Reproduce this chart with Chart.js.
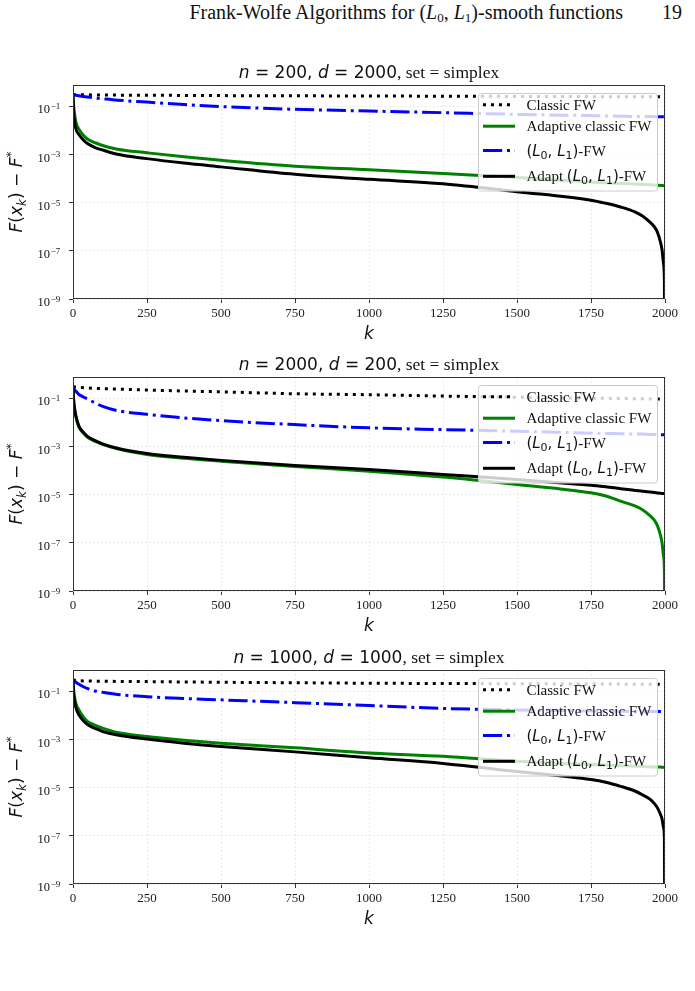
<!DOCTYPE html>
<html><head><meta charset="utf-8">
<script src="https://cdn.jsdelivr.net/npm/chart.js@4.4.1/dist/chart.umd.min.js"></script>
<style>
html,body{margin:0;padding:0;background:#fff;}
body{width:695px;height:991px;position:relative;overflow:hidden;font-family:"Liberation Serif",serif;color:#111;}
#hdr{position:absolute;top:1px;left:0;width:623px;text-align:right;font-size:20px;line-height:22px;white-space:nowrap;}
#pg{position:absolute;top:1px;left:662px;font-size:20px;line-height:22px;}
#hdr i{font-style:italic;}
#hdr sub{font-size:13px;vertical-align:-3px;line-height:0;}
canvas{position:absolute;left:0;}
</style></head>
<body>
<div id="hdr">Frank-Wolfe Algorithms for (<i>L</i><sub>0</sub>, <i>L</i><sub>1</sub>)-smooth functions</div>
<div id="pg">19</div>
<canvas id="c0" width="695" height="300" style="top:45px"></canvas>
<canvas id="c1" width="695" height="300" style="top:337px"></canvas>
<canvas id="c2" width="695" height="300" style="top:630px"></canvas>
<script>
// ---------- data ----------
const kSteps = [0, 2, 5, 10, 20, 35, 50, 75, 100, 150, 250, 375, 500, 750, 1000, 1250, 1500, 1750, 1800, 1850, 1900, 1925, 1950, 1965, 1975, 1985, 1990, 1995, 1998, 2000];
const seriesNames = ['Classic FW', 'Adaptive classic FW', '(L0, L1)-FW', 'Adapt (L0, L1)-FW'];
const panelN = [200, 2000, 1000];
const panelD = [2000, 200, 1000];
const xTickValues = [0, 250, 500, 750, 1000, 1250, 1500, 1750, 2000];
const xTickLabels = ['0', '250', '500', '750', '1000', '1250', '1500', '1750', '2000'];
const yTickExponents = [-9, -7, -5, -3, -1];

// panel 1: n=200, d=2000
const classic1 = [0.3, 0.3, 0.3, 0.29, 0.29, 0.29, 0.29, 0.288, 0.285, 0.283, 0.28, 0.275, 0.27, 0.265, 0.26, 0.255, 0.25, 0.245, 0.244, 0.243, 0.242, 0.242, 0.241, 0.241, 0.24, 0.24, 0.24, 0.24, 0.24, 0.24];
const adaptive1 = [0.3, 0.12, 0.05, 0.021, 0.011, 0.0062, 0.0042, 0.003, 0.0023, 0.0016, 0.00115, 0.00078, 0.00056, 0.00032, 0.00023, 0.00016, 0.000108, 0.00007, 0.000066, 0.000062, 0.000058, 0.000056, 0.000054, 0.000053, 0.000052, 0.000051, 0.000051, 0.00005, 0.00005, 0.00005];
const l0l1_1 = [0.3, 0.298, 0.29, 0.28, 0.265, 0.25, 0.235, 0.215, 0.2, 0.175, 0.145, 0.115, 0.095, 0.073, 0.062, 0.053, 0.045, 0.04, 0.039, 0.038, 0.037, 0.037, 0.0365, 0.0363, 0.0362, 0.036, 0.036, 0.036, 0.036, 0.036];
const adaptL0L1_1 = [0.3, 0.06, 0.025, 0.011, 0.0066, 0.0039, 0.0027, 0.0019, 0.0015, 0.001, 0.00066, 0.00043, 0.0003, 0.000148, 0.000091, 0.00006, 0.000028, 0.0000125, 0.0000093, 0.0000065, 0.000004, 0.0000027, 0.0000015, 0.00000095, 0.00000056, 0.00000022, 0.00000011, 0.00000003, 0.000000006, 1e-14];

// panel 2: n=2000, d=200
const classic2 = [0.3, 0.295, 0.29, 0.285, 0.275, 0.268, 0.26, 0.252, 0.245, 0.235, 0.215, 0.195, 0.18, 0.15, 0.137, 0.12, 0.108, 0.098, 0.097, 0.095, 0.094, 0.093, 0.092, 0.092, 0.091, 0.091, 0.091, 0.09, 0.09, 0.09];
const adaptive2 = [0.3, 0.08, 0.035, 0.016, 0.0062, 0.0035, 0.0023, 0.0016, 0.0012, 0.00078, 0.00046, 0.00032, 0.00024, 0.000145, 0.000093, 0.000053, 0.000026, 0.0000118, 0.0000087, 0.0000053, 0.0000033, 0.0000023, 0.0000013, 0.00000083, 0.00000049, 0.0000002, 0.0000001, 0.000000028, 0.000000006, 1e-14];
const l0l1_2 = [0.3, 0.26, 0.22, 0.19, 0.14, 0.11, 0.09, 0.062, 0.045, 0.03, 0.021, 0.015, 0.0115, 0.0079, 0.0058, 0.0049, 0.0042, 0.0035, 0.0034, 0.0033, 0.0032, 0.0032, 0.0031, 0.0031, 0.003, 0.003, 0.003, 0.003, 0.003, 0.003];
const adaptL0L1_2 = [0.3, 0.09, 0.04, 0.018, 0.0068, 0.0038, 0.0025, 0.0017, 0.00126, 0.00083, 0.0005, 0.00035, 0.00026, 0.000159, 0.00011, 0.000068, 0.000042, 0.000024, 0.000021, 0.0000174, 0.0000148, 0.0000137, 0.0000126, 0.000012, 0.0000116, 0.0000112, 0.000011, 0.0000109, 0.0000108, 0.0000107];

// panel 3: n=1000, d=1000
const classic3 = [0.3, 0.29, 0.28, 0.27, 0.265, 0.262, 0.26, 0.257, 0.255, 0.25, 0.245, 0.237, 0.23, 0.22, 0.21, 0.205, 0.2, 0.195, 0.194, 0.193, 0.192, 0.192, 0.191, 0.191, 0.19, 0.19, 0.19, 0.19, 0.19, 0.19];
const adaptive3 = [0.3, 0.12, 0.06, 0.03, 0.0165, 0.0085, 0.0054, 0.0038, 0.0029, 0.0019, 0.0013, 0.00092, 0.00069, 0.00044, 0.00027, 0.000196, 0.000122, 0.000089, 0.000085, 0.00008, 0.000076, 0.000074, 0.000072, 0.000071, 0.00007, 0.00007, 0.000069, 0.000069, 0.000069, 0.000069];
const l0l1_3 = [0.3, 0.28, 0.26, 0.23, 0.19, 0.15, 0.125, 0.1, 0.088, 0.072, 0.058, 0.049, 0.043, 0.033, 0.025, 0.019, 0.0165, 0.015, 0.0148, 0.0145, 0.0143, 0.0143, 0.0142, 0.0141, 0.014, 0.014, 0.014, 0.014, 0.014, 0.014];
const adaptL0L1_3 = [0.3, 0.08, 0.04, 0.02, 0.0103, 0.0058, 0.004, 0.0028, 0.0021, 0.0015, 0.00102, 0.00069, 0.0005, 0.0003, 0.00017, 0.0001, 0.000046, 0.0000213, 0.0000165, 0.0000112, 0.000007, 0.0000049, 0.0000032, 0.0000021, 0.0000014, 0.00000075, 0.0000005, 0.00000022, 0.00000008, 1e-14];

const panels = [
  [classic1, adaptive1, l0l1_1, adaptL0L1_1],
  [classic2, adaptive2, l0l1_2, adaptL0L1_2],
  [classic3, adaptive3, l0l1_3, adaptL0L1_3]
];

// ---------- styles ----------
const lineColors = ['#000000', '#008000', '#0000ff', '#000000'];
const lineDashes = [[3, 5], [], [19.2, 4.8, 3, 4.8], []];
const drawOrder = [4, 3, 2, 1];

function fnt(style, size, family) { return style + ' ' + size + 'px "' + family + '"'; }
const SERIF = 'Liberation Serif', SANS = 'DejaVu Sans';

function drawRich(ctx, segs, x, y, align) {
  let w = 0;
  segs.forEach(s => { ctx.font = s.f; s.w = ctx.measureText(s.t).width; w += s.w; });
  let cx = align === 'center' ? x - w / 2 : (align === 'right' ? x - w : x);
  ctx.textAlign = 'left';
  ctx.textBaseline = 'alphabetic';
  segs.forEach(s => { ctx.font = s.f; ctx.fillText(s.t, cx, y + (s.dy || 0)); cx += s.w; });
  return w;
}

function labelSegs(name, size) {
  const m = name.match(/^(.*)\(L(\d), L(\d)\)(.*)$/);
  if (!m) return [{ t: name, f: fnt('normal', size, SERIF) }];
  const segs = [];
  if (m[1]) segs.push({ t: m[1], f: fnt('normal', size, SERIF) });
  const sub = Math.round(size * 0.7);
  segs.push({ t: '(', f: fnt('normal', size, SANS) });
  segs.push({ t: 'L', f: fnt('italic', size, SANS) });
  segs.push({ t: m[2], f: fnt('normal', sub, SANS), dy: 3 });
  segs.push({ t: ', ', f: fnt('normal', size, SANS) });
  segs.push({ t: 'L', f: fnt('italic', size, SANS) });
  segs.push({ t: m[3], f: fnt('normal', sub, SANS), dy: 3 });
  segs.push({ t: ')', f: fnt('normal', size, SANS) });
  if (m[4]) segs.push({ t: m[4], f: fnt('normal', size, SERIF) });
  return segs;
}

const decorPlugin = {
  id: 'decor',
  afterDatasetsDraw(chart) {
    const { ctx, chartArea: a } = chart;
    ctx.save();
    // frame
    ctx.strokeStyle = '#333';
    ctx.lineWidth = 1;
    ctx.strokeRect(Math.round(a.left) + 0.5, Math.round(a.top) + 0.5, Math.round(a.right - a.left) - 1, Math.round(a.bottom - a.top) - 1);
    // legend
    const bw = 179, bh = 97.5, bx = a.right - 8 - bw, by = a.top + 8;
    ctx.beginPath();
    ctx.roundRect(bx + 0.5, by + 0.5, bw, bh, 3);
    ctx.fillStyle = 'rgba(255,255,255,0.8)';
    ctx.fill();
    ctx.strokeStyle = '#cccccc';
    ctx.lineWidth = 1;
    ctx.stroke();
    const rows = [11.8, 33.2, 57.5, 83.3];
    chart.data.datasets.forEach((ds, i) => {
      const y = by + rows[i];
      ctx.save();
      ctx.strokeStyle = ds.borderColor;
      ctx.lineWidth = 3;
      ctx.lineCap = 'butt';
      ctx.setLineDash(ds.borderDash || []);
      ctx.beginPath();
      ctx.moveTo(bx + 5, y);
      ctx.lineTo(bx + 37, y);
      ctx.stroke();
      ctx.restore();
      ctx.fillStyle = '#111';
      drawRich(ctx, labelSegs(ds.label, 15), bx + 48.4, y + 5, 'left');
    });
    ctx.restore();
  },
  afterDraw(chart) {
    const { ctx, chartArea: a } = chart;
    const p = chart.options.plugins.decor;
    ctx.save();
    ctx.fillStyle = '#111';
    // title
    const cx = (a.left + a.right) / 2;
    drawRich(ctx, [
      { t: 'n', f: fnt('italic', 17, SANS) },
      { t: ' = ' + p.n + ', ', f: fnt('normal', 17, SANS) },
      { t: 'd', f: fnt('italic', 17, SANS) },
      { t: ' = ' + p.d, f: fnt('normal', 17, SANS) },
      { t: ', set = simplex', f: fnt('normal', 17.5, SERIF) }
    ], cx, a.top - 7, 'center');
    // y tick labels (10^e)
    const ys = chart.scales.y;
    yTickExponents.forEach(e => {
      const py = ys.getPixelForValue(Math.pow(10, e));
      ctx.textBaseline = 'alphabetic';
      ctx.font = fnt('normal', 12.5, SERIF);
      ctx.textAlign = 'right';
      ctx.fillText('10', a.left - 23, py + 7.3);
      ctx.font = fnt('normal', 9, SERIF);
      ctx.textAlign = 'left';
      ctx.fillText('\u2212' + Math.abs(e), a.left - 22.3, py + 3);
    });
    // y axis label
    ctx.save();
    ctx.translate(22, (a.top + a.bottom) / 2);
    ctx.rotate(-Math.PI / 2);
    drawRich(ctx, [
      { t: 'F', f: fnt('italic', 17, SANS) },
      { t: '(', f: fnt('normal', 17, SANS) },
      { t: 'x', f: fnt('italic', 17, SANS) },
      { t: 'k', f: fnt('italic', 12, SANS), dy: 3.5 },
      { t: ') \u2212 ', f: fnt('normal', 17, SANS) },
      { t: 'F', f: fnt('italic', 17, SANS) },
      { t: '*', f: fnt('normal', 12, SANS), dy: -7 }
    ], 0, 0, 'center');
    ctx.restore();
    ctx.restore();
  }
};

function makeChart(idx) {
  const series = panels[idx];
  const datasets = series.map((vals, i) => ({
    label: seriesNames[i],
    data: kSteps.map((k, j) => ({ x: k, y: vals[j] })),
    borderColor: lineColors[i],
    backgroundColor: lineColors[i],
    borderWidth: 3,
    borderDash: lineDashes[i],
    borderCapStyle: 'butt',
    pointRadius: 0,
    fill: false,
    cubicInterpolationMode: 'monotone',
    clip: 0,
    order: drawOrder[i]
  }));
  const gridOpts = { color: '#e4e4e4', lineWidth: 0.8, tickLength: 4, tickColor: '#333', tickWidth: 1, tickBorderDash: [] };
  return new Chart(document.getElementById('c' + idx), {
    type: 'line',
    data: { datasets },
    plugins: [decorPlugin],
    options: {
      responsive: false,
      animation: false,
      devicePixelRatio: 1,
      events: [],
      layout: { padding: { left: 0, right: 30, top: 40, bottom: 0 } },
      plugins: {
        legend: { display: false },
        tooltip: { enabled: false },
        title: { display: false },
        decor: { n: panelN[idx], d: panelD[idx] }
      },
      scales: {
        x: {
          type: 'linear', min: 0, max: 2000,
          afterBuildTicks: s => { s.ticks = xTickValues.map(v => ({ value: v })); },
          ticks: { font: { family: SERIF, size: 13 }, color: '#222', padding: 3, maxRotation: 0, autoSkip: false,
                   callback: (v, i) => xTickLabels[i] },
          grid: gridOpts,
          border: { display: false, dash: [2, 2] },
          title: { display: true, text: 'k', color: '#111', font: { family: SANS, style: 'italic', size: 17 }, padding: { top: 0, bottom: 0 } },
          afterFit: s => { s.height = 46; }
        },
        y: {
          type: 'logarithmic', min: 1e-9, max: Math.pow(10, -0.129),
          afterBuildTicks: s => { s.ticks = yTickExponents.map(e => ({ value: Math.pow(10, e) })); },
          ticks: { display: false },
          grid: gridOpts,
          border: { display: false, dash: [2, 2] },
          afterFit: s => { s.width = 73; }
        }
      }
    }
  });
}
[0, 1, 2].forEach(makeChart);
</script>
</body></html>
